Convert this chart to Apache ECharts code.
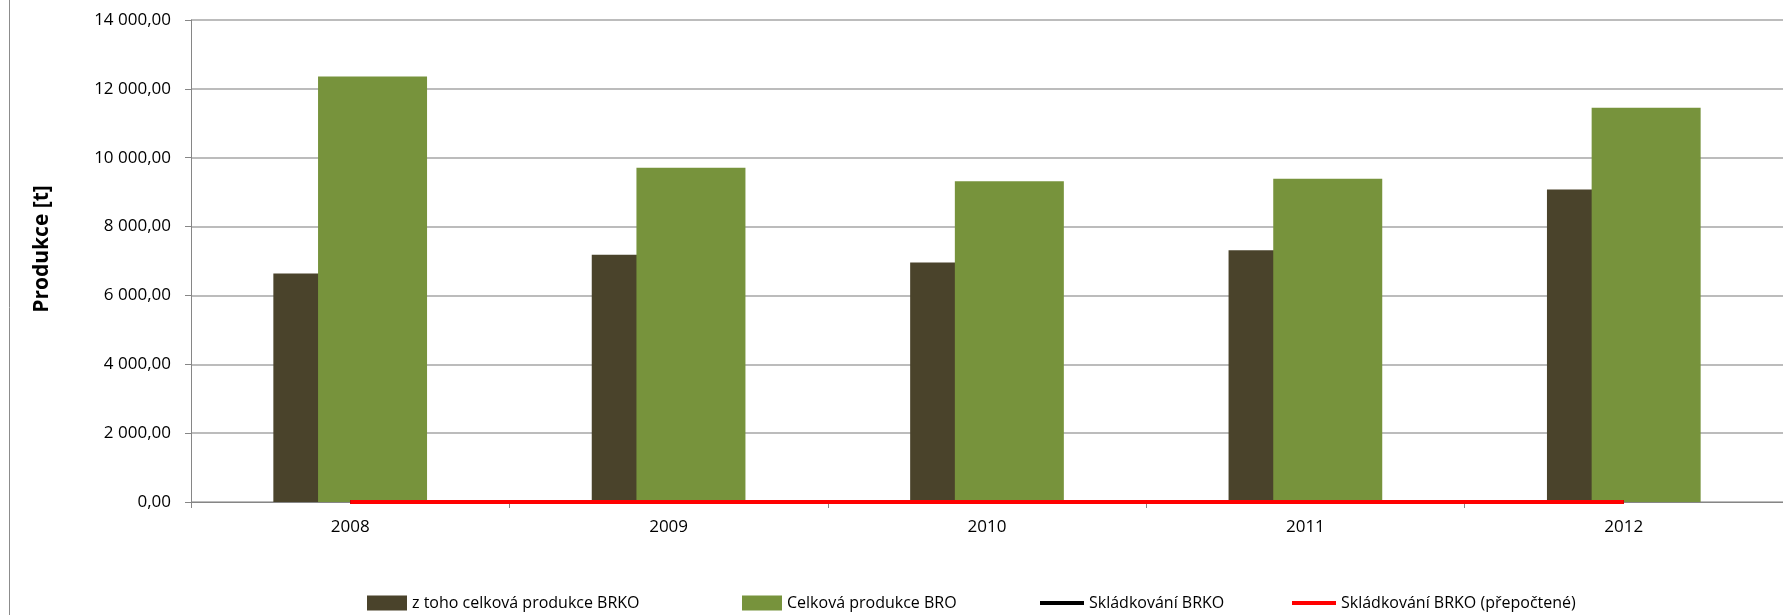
<!DOCTYPE html>
<html>
<head>
<meta charset="utf-8">
<script src="https://cdn.jsdelivr.net/npm/echarts@6/dist/echarts.min.js"></script>
<style>
html,body{margin:0;padding:0;background:#fff;}
#chart{width:1783px;height:615px;}
</style>
</head>
<body>
<div id="chart"></div>
<script>
var categories = ['2008', '2009', '2010', '2011', '2012'];
var brkoProduction = [6640, 7180, 6960, 7310, 9080];
var broProduction = [12360, 9710, 9320, 9390, 11450];
var landfillBrko = [0, 0, 0, 0, 0];
var landfillBrkoRecalc = [0, 0, 0, 0, 0];
var seriesNames = ['z toho celková produkce BRKO', 'Celková produkce BRO', 'Skládkování BRKO', 'Skládkování BRKO (přepočtené)'];

function fmt(v) {
  var s = v.toFixed(2).split('.');
  var intPart = s[0].replace(/\B(?=(\d{3})+(?!\d))/g, ' ');
  return intPart + ',' + s[1];
}

var font = '"Open Sans", Lato, sans-serif';
var legendText = { fontFamily: font, fontSize: 16, color: '#000', lineHeight: 18 };
var chart = echarts.init(document.getElementById('chart'));
chart.setOption({
  animation: false,
  backgroundColor: '#ffffff',
  textStyle: { fontFamily: font },
  grid: { left: 191, right: 0, top: 20, bottom: 113, containLabel: false },
  graphic: [{
    type: 'line', shape: { x1: 9.5, y1: 0, x2: 9.5, y2: 615 },
    style: { stroke: '#8c8c8c', lineWidth: 1 }, silent: true
  }],
  legend: [
    { data: [seriesNames[0]], left: 367, top: 594, padding: 0, icon: 'rect', itemWidth: 40, itemHeight: 15, itemGap: 0, textStyle: legendText },
    { data: [seriesNames[1]], left: 742, top: 594, padding: 0, icon: 'rect', itemWidth: 40, itemHeight: 15, itemGap: 0, textStyle: legendText },
    { data: [seriesNames[2]], left: 1040, top: 594, padding: 0, icon: 'rect', itemWidth: 44, itemHeight: 4, itemGap: 0, textStyle: legendText },
    { data: [seriesNames[3]], left: 1292, top: 594, padding: 0, icon: 'rect', itemWidth: 44, itemHeight: 4, itemGap: 0, textStyle: legendText }
  ],
  xAxis: {
    type: 'category',
    data: categories,
    boundaryGap: true,
    axisLine: { show: true, lineStyle: { color: '#868686', width: 1 } },
    axisTick: { show: true, length: 6, lineStyle: { color: '#868686' } },
    axisLabel: { fontFamily: font, fontSize: 17, color: '#000', margin: 17 },
    splitLine: { show: false }
  },
  yAxis: {
    type: 'value',
    min: 0, max: 14000, interval: 2000,
    name: 'Produkce [t]',
    nameLocation: 'middle',
    nameGap: 138,
    nameTextStyle: { fontFamily: font, fontSize: 21, fontWeight: 'bold', color: '#000', padding: [0, 0, 0, 24] },
    axisLine: { show: true, lineStyle: { color: '#868686', width: 1 } },
    axisTick: { show: true, length: 6, lineStyle: { color: '#868686' } },
    axisLabel: { fontFamily: font, fontSize: 17, color: '#000', margin: 20, formatter: fmt },
    splitLine: { show: true, lineStyle: { color: '#a6a6a6', width: 1.5 } }
  },
  series: [
    { name: seriesNames[0], type: 'bar', data: brkoProduction, barWidth: 109, barGap: '-59%',
      itemStyle: { color: '#4a432b' } },
    { name: seriesNames[1], type: 'bar', data: broProduction, barWidth: 109, barGap: '-59%',
      itemStyle: { color: '#77933c' } },
    { name: seriesNames[2], type: 'line', data: landfillBrko, showSymbol: false, symbol: 'none',
      lineStyle: { color: '#000000', width: 4 }, itemStyle: { color: '#000000' }, z: 3 },
    { name: seriesNames[3], type: 'line', data: landfillBrkoRecalc, showSymbol: false, symbol: 'none',
      lineStyle: { color: '#ff0000', width: 4 }, itemStyle: { color: '#ff0000' }, z: 4 }
  ]
});
</script>
</body>
</html>
